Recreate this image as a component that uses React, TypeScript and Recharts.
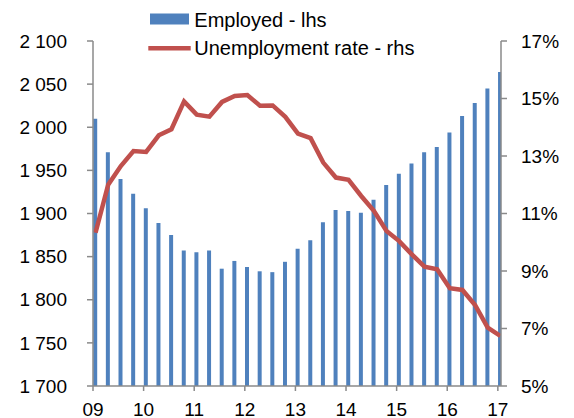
import React from 'react';
import { ComposedChart, Bar, Line, XAxis, YAxis, Legend } from 'recharts';

const quarterLabels = [
  '09Q1', '09Q2', '09Q3', '09Q4',
  '10Q1', '10Q2', '10Q3', '10Q4',
  '11Q1', '11Q2', '11Q3', '11Q4',
  '12Q1', '12Q2', '12Q3', '12Q4',
  '13Q1', '13Q2', '13Q3', '13Q4',
  '14Q1', '14Q2', '14Q3', '14Q4',
  '15Q1', '15Q2', '15Q3', '15Q4',
  '16Q1', '16Q2', '16Q3', '16Q4',
  '17Q1',
];

const yearTickLabels = ['09', '10', '11', '12', '13', '14', '15', '16', '17'];

const employed = [
  2010, 1971, 1940, 1923, 1906, 1889, 1875, 1857, 1855, 1857, 1836, 1845,
  1838, 1833, 1832, 1844, 1859, 1869, 1890, 1904, 1903, 1901, 1916, 1933,
  1946, 1958, 1971, 1977, 1994, 2013, 2028, 2045, 2064,
];

const unemploymentRate = [
  10.33, 12.0, 12.65, 13.17, 13.14, 13.72, 13.93, 14.9, 14.44, 14.37, 14.88,
  15.09, 15.12, 14.75, 14.76, 14.36, 13.78, 13.62, 12.77, 12.25, 12.17, 11.61,
  11.09, 10.39, 10.04, 9.58, 9.15, 9.06, 8.4, 8.34, 7.82, 7.03, 6.74,
];

const leftTicks = [1700, 1750, 1800, 1850, 1900, 1950, 2000, 2050, 2100];
const rightTicks = [5, 7, 9, 11, 13, 15, 17];

const TICK_SHIFT = -0.2;
const yearTickPositions = yearTickLabels.map((_, k) => k * 4 + TICK_SHIFT);

const data = employed.map((e, i) => ({
  quarter: quarterLabels[i],
  pos: i,
  employed: e,
  rate: unemploymentRate[i],
}));

const FONT = '"Liberation Sans", Arial, sans-serif';
const AXIS_COLOR = '#8a8a8a';
const BAR_COLOR = '#4F81BD';
const LINE_COLOR = '#C0504D';

const fmtThousands = (v: number) => {
  const th = Math.floor(v / 1000);
  const rest = String(v % 1000).padStart(3, '0');
  return th > 0 ? `${th} ${rest}` : String(v);
};

const LegendContent = () => (
  <svg width={300} height={62} style={{ display: 'block' }}>
    <rect x={10} y={13.5} width={39} height={11} fill={BAR_COLOR} />
    <text x={54.3} y={26.7} fontSize={20} fontFamily={FONT} fill="#000">
      Employed - lhs
    </text>
    <line x1={8.3} x2={50.7} y1={48.3} y2={48.3} stroke={LINE_COLOR} strokeWidth={4.5} />
    <text x={54.3} y={54.5} fontSize={20} fontFamily={FONT} fill="#000">
      Unemployment rate - rhs
    </text>
  </svg>
);

const tickStyle = { fill: '#000', fontSize: 19, fontFamily: FONT };

export default function App() {
  return (
    <div style={{ position: 'absolute', left: 0, top: 0 }}>
      <ComposedChart
        width={574}
        height={418}
        data={data}
        margin={{ top: 41, right: 0, bottom: 0, left: 0 }}
      >
        <XAxis
          dataKey="pos"
          type="number"
          domain={[TICK_SHIFT, 32.05]}
          ticks={yearTickPositions}
          interval={0}
          allowDataOverflow
          tickFormatter={(v: number) => yearTickLabels[Math.round((v - TICK_SHIFT) / 4)]}
          height={32}
          tickSize={5}
          tickMargin={12}
          axisLine={{ stroke: AXIS_COLOR, strokeWidth: 1.5 }}
          tickLine={{ stroke: AXIS_COLOR, strokeWidth: 1.5 }}
          tick={tickStyle}
        />
        <YAxis
          yAxisId="left"
          orientation="left"
          width={93}
          domain={[1700, 2100]}
          ticks={leftTicks}
          interval={0}
          allowDataOverflow
          tickFormatter={fmtThousands}
          tickSize={6}
          tickMargin={20}
          axisLine={{ stroke: AXIS_COLOR, strokeWidth: 1.5 }}
          tickLine={{ stroke: AXIS_COLOR, strokeWidth: 1.5 }}
          tick={tickStyle}
        />
        <YAxis
          yAxisId="right"
          orientation="right"
          width={73}
          domain={[5, 17]}
          ticks={rightTicks}
          interval={0}
          allowDataOverflow
          tickFormatter={(v: number) => `${v}%`}
          tickSize={6}
          tickMargin={14}
          axisLine={{ stroke: AXIS_COLOR, strokeWidth: 1.5 }}
          tickLine={{ stroke: AXIS_COLOR, strokeWidth: 1.5 }}
          tick={tickStyle}
        />
        <Legend
          layout="horizontal"
          verticalAlign="middle"
          align="center"
          wrapperStyle={{ top: 0, left: 140, width: 300, height: 62 }}
          content={() => <LegendContent />}
        />
        <Bar
          yAxisId="left"
          dataKey="employed"
          name="Employed - lhs"
          fill={BAR_COLOR}
          barSize={4}
          isAnimationActive={false}
        />
        <Line
          yAxisId="right"
          dataKey="rate"
          name="Unemployment rate - rhs"
          type="linear"
          stroke={LINE_COLOR}
          strokeWidth={4.5}
          dot={false}
          activeDot={false}
          isAnimationActive={false}
        />
      </ComposedChart>
    </div>
  );
}
